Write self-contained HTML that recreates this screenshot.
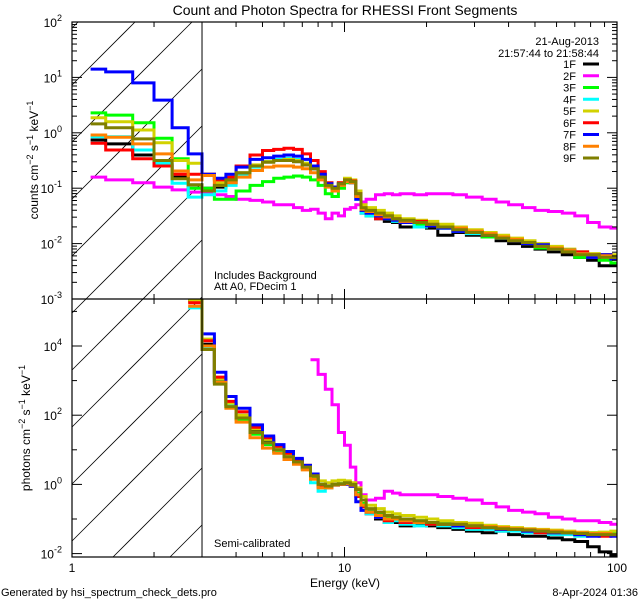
<!DOCTYPE html>
<html><head><meta charset="utf-8"><style>
html,body{margin:0;padding:0;background:#fff;width:640px;height:600px;overflow:hidden;}
svg{display:block;font-family:"Liberation Sans",sans-serif;overflow:hidden;}
</style></head><body>
<svg id="chart" width="640" height="600" viewBox="0 0 640 600" xmlns="http://www.w3.org/2000/svg">
<rect width="640" height="600" fill="#fff"/>
<text x="345" y="15" font-size="14" text-anchor="middle">Count and Photon Spectra for RHESSI Front Segments</text>
<g id="g" fill="none"></g>
<text x="345" y="587" font-size="12" text-anchor="middle">Energy (keV)</text>
<text x="1" y="596" font-size="11">Generated by hsi_spectrum_check_dets.pro</text>
<text x="638" y="596" font-size="11" text-anchor="end">8-Apr-2024 01:36</text>
<text transform="translate(38,160) rotate(-90)" font-size="12" text-anchor="middle">counts cm<tspan dy="-5" font-size="9">−2</tspan><tspan dy="5"> s</tspan><tspan dy="-5" font-size="9">−1</tspan><tspan dy="5"> keV</tspan><tspan dy="-5" font-size="9">−1</tspan></text>
<text transform="translate(30,428) rotate(-90)" font-size="12" text-anchor="middle">photons cm<tspan dy="-5" font-size="9">−2</tspan><tspan dy="5"> s</tspan><tspan dy="-5" font-size="9">−1</tspan><tspan dy="5"> keV</tspan><tspan dy="-5" font-size="9">−1</tspan></text>
<text x="214" y="279" font-size="11">Includes Background</text>
<text x="214" y="290" font-size="11">Att A0, FDecim 1</text>
<text x="214" y="547" font-size="11">Semi-calibrated</text>
<text x="599" y="45" font-size="11" text-anchor="end">21-Aug-2013</text>
<text x="599" y="57" font-size="11" text-anchor="end">21:57:44 to 21:58:44</text>
</svg>
<script>
const energyEdges=[1.17,1.33,1.67,2,2.33,2.67,3,3.33,3.67,4,4.5,5,5.5,6,6.5,7,7.5,8,8.5,9,9.5,10,10.5,11,11.5,12,13,14,15,16,18,20,22,25,28,32,36,40,45,50,56,63,70,78,86,95,100];
const detectorNames=["1F","2F","3F","4F","5F","6F","7F","8F","9F"];
const detectorColors=["#000000","#ff00ff","#00ff00","#00ffff","#d2d200","#ff0000","#0000ff","#ff8000","#7f7f00"];
// log10 counts
const counts1F=[-0.13,-0.2,-0.4,-0.58,-0.8,-0.94,-1.0,-0.98,-0.9,-0.75,-0.6,-0.52,-0.5,-0.5,-0.52,-0.58,-0.65,-0.8,-0.95,-1.0,-0.92,-0.85,-0.88,-1.15,-1.45,-1.5,-1.55,-1.6,-1.62,-1.7,-1.68,-1.72,-1.85,-1.8,-1.85,-1.88,-1.95,-2.0,-2.05,-2.1,-2.15,-2.2,-2.25,-2.3,-2.4,-2.4];
const counts2F=[-0.8,-0.85,-0.9,-0.98,-1.03,-1.07,-1.1,-1.12,-1.15,-1.2,-1.22,-1.25,-1.3,-1.3,-1.35,-1.4,-1.38,-1.45,-1.55,-1.45,-1.5,-1.38,-1.35,-1.3,-1.25,-1.2,-1.12,-1.1,-1.12,-1.1,-1.12,-1.1,-1.1,-1.12,-1.16,-1.2,-1.25,-1.3,-1.35,-1.4,-1.42,-1.45,-1.5,-1.62,-1.7,-1.72];
const counts3F=[0.36,0.32,0.18,-0.1,-0.47,-1.0,-1.0,-1.2,-1.2,-1.05,-0.95,-0.88,-0.82,-0.8,-0.78,-0.8,-0.85,-0.95,-1.1,-1.15,-1.0,-0.9,-0.9,-1.1,-1.4,-1.5,-1.45,-1.55,-1.58,-1.6,-1.65,-1.65,-1.72,-1.75,-1.8,-1.88,-1.9,-1.95,-2.0,-2.08,-2.1,-2.15,-2.25,-2.22,-2.3,-2.35];
const counts4F=[-0.07,-0.07,-0.31,-0.55,-0.91,-1.16,-1.12,-1.05,-0.95,-0.78,-0.62,-0.52,-0.48,-0.46,-0.48,-0.55,-0.62,-0.78,-0.95,-1.05,-0.95,-0.87,-0.9,-1.2,-1.45,-1.5,-1.52,-1.55,-1.6,-1.62,-1.7,-1.68,-1.72,-1.78,-1.82,-1.85,-1.9,-1.95,-2.0,-2.05,-2.1,-2.12,-2.15,-2.2,-2.2,-2.25];
const counts5F=[0.27,0.2,0.05,-0.18,-0.5,-0.55,-0.75,-0.9,-0.88,-0.72,-0.58,-0.52,-0.5,-0.48,-0.5,-0.55,-0.62,-0.78,-0.92,-0.98,-0.9,-0.82,-0.85,-1.05,-1.3,-1.35,-1.4,-1.45,-1.5,-1.55,-1.58,-1.6,-1.65,-1.7,-1.75,-1.8,-1.85,-1.9,-1.95,-2.0,-2.05,-2.1,-2.15,-2.18,-2.2,-2.2];
const counts6F=[-0.19,-0.31,-0.47,-0.6,-0.75,-0.75,-0.75,-0.85,-0.8,-0.6,-0.4,-0.32,-0.3,-0.28,-0.3,-0.38,-0.5,-0.7,-0.9,-0.98,-0.9,-0.85,-0.87,-1.1,-1.4,-1.45,-1.55,-1.5,-1.55,-1.62,-1.6,-1.68,-1.7,-1.75,-1.78,-1.85,-1.88,-1.95,-2.0,-2.05,-2.1,-2.15,-2.15,-2.2,-2.2,-2.25];
const counts7F=[1.15,1.1,0.9,0.59,0.09,-0.38,-0.75,-0.82,-0.75,-0.62,-0.48,-0.45,-0.42,-0.4,-0.42,-0.48,-0.6,-0.75,-0.92,-0.98,-0.92,-0.86,-0.9,-1.2,-1.4,-1.45,-1.5,-1.55,-1.58,-1.62,-1.62,-1.68,-1.72,-1.78,-1.8,-1.85,-1.9,-1.95,-2.0,-2.02,-2.1,-2.12,-2.18,-2.25,-2.2,-2.28];
const counts8F=[-0.04,-0.08,-0.2,-0.38,-0.69,-0.85,-0.77,-0.95,-0.9,-0.8,-0.68,-0.62,-0.6,-0.6,-0.62,-0.65,-0.72,-0.85,-0.98,-1.05,-0.95,-0.88,-0.9,-1.15,-1.38,-1.42,-1.48,-1.52,-1.55,-1.6,-1.62,-1.65,-1.7,-1.72,-1.78,-1.82,-1.88,-1.92,-1.98,-2.05,-2.08,-2.12,-2.18,-2.2,-2.22,-2.25];
const counts9F=[0.16,0.09,-0.11,-0.5,-0.83,-0.94,-1.05,-0.95,-0.85,-0.72,-0.6,-0.53,-0.5,-0.5,-0.52,-0.58,-0.65,-0.8,-0.95,-1.0,-0.92,-0.85,-0.88,-1.1,-1.35,-1.4,-1.45,-1.5,-1.55,-1.58,-1.62,-1.65,-1.7,-1.75,-1.8,-1.85,-1.9,-1.95,-1.98,-2.05,-2.1,-2.15,-2.2,-2.2,-2.25,-2.25];
// log10 photons
const photons1F=[null,null,null,null,null,5.3,4.05,3.0,2.3,2.0,1.55,1.25,1.05,0.85,0.68,0.5,0.2,-0.05,-0.05,0.0,0.0,0.02,-0.05,-0.3,-0.6,-0.85,-1.0,-1.1,-1.1,-1.2,-1.15,-1.2,-1.25,-1.3,-1.35,-1.4,-1.35,-1.45,-1.5,-1.5,-1.55,-1.6,-1.65,-1.8,-1.95,-2.05];
const photons2F=[null,null,null,null,null,null,null,null,null,null,null,null,null,null,null,null,3.6,3.18,2.75,2.3,1.5,1.13,0.5,0.05,-0.3,-0.45,-0.4,-0.2,-0.25,-0.3,-0.3,-0.3,-0.35,-0.4,-0.45,-0.55,-0.65,-0.75,-0.8,-0.85,-0.95,-1.0,-1.05,-1.05,-1.1,-1.15];
const photons3F=[null,null,null,null,null,5.4,3.95,2.95,2.25,1.88,1.45,1.15,0.95,0.78,0.62,0.45,0.2,0.0,-0.05,0.0,0.02,0.05,0.0,-0.25,-0.55,-0.75,-0.85,-0.95,-0.95,-1.0,-1.05,-1.1,-1.1,-1.15,-1.2,-1.22,-1.25,-1.28,-1.3,-1.32,-1.35,-1.38,-1.4,-1.4,-1.45,-1.4];
const photons4F=[null,null,null,null,null,5.1,3.95,2.95,2.3,1.95,1.5,1.2,1.0,0.82,0.65,0.45,0.05,-0.2,-0.1,-0.02,0.0,0.02,-0.05,-0.3,-0.6,-0.85,-0.95,-1.1,-1.05,-1.15,-1.2,-1.15,-1.2,-1.25,-1.3,-1.3,-1.35,-1.35,-1.4,-1.4,-1.45,-1.45,-1.5,-1.45,-1.4,-1.45];
const photons5F=[null,null,null,null,null,5.3,4.2,3.05,2.35,2.0,1.6,1.3,1.05,0.88,0.7,0.55,0.3,0.1,0.05,0.1,0.12,0.1,0.05,-0.1,-0.35,-0.6,-0.7,-0.8,-0.85,-0.9,-0.95,-1.0,-1.05,-1.1,-1.12,-1.18,-1.22,-1.25,-1.28,-1.3,-1.32,-1.35,-1.38,-1.4,-1.38,-1.35];
const photons6F=[null,null,null,null,null,5.25,4.15,3.1,2.4,2.1,1.65,1.35,1.1,0.9,0.72,0.55,0.25,-0.05,-0.05,0.0,0.0,0.02,-0.05,-0.35,-0.65,-0.8,-0.95,-1.05,-1.0,-1.1,-1.1,-1.15,-1.15,-1.2,-1.25,-1.25,-1.3,-1.3,-1.35,-1.4,-1.4,-1.4,-1.45,-1.45,-1.5,-1.45];
const photons7F=[null,null,null,null,null,5.6,4.35,3.24,2.54,2.2,1.72,1.4,1.15,0.95,0.75,0.55,0.3,0.0,-0.05,-0.02,0.0,0.0,-0.05,-0.5,-0.75,-0.8,-0.95,-1.0,-1.0,-1.05,-1.1,-1.1,-1.15,-1.2,-1.2,-1.25,-1.3,-1.3,-1.35,-1.35,-1.4,-1.4,-1.45,-1.5,-1.45,-1.5];
const photons8F=[null,null,null,null,null,5.15,4.0,2.95,2.2,1.8,1.35,1.05,0.9,0.72,0.58,0.42,0.15,-0.1,-0.1,-0.02,0.0,0.02,-0.02,-0.3,-0.6,-0.8,-0.9,-1.0,-1.0,-1.05,-1.1,-1.1,-1.15,-1.15,-1.2,-1.22,-1.25,-1.28,-1.3,-1.32,-1.35,-1.38,-1.4,-1.42,-1.42,-1.45];
const photons9F=[null,null,null,null,null,5.5,3.9,2.9,2.25,1.92,1.5,1.2,1.0,0.8,0.65,0.5,0.25,0.0,-0.05,0.0,0.02,0.05,0.0,-0.15,-0.45,-0.7,-0.8,-0.9,-0.95,-1.0,-1.05,-1.1,-1.15,-1.15,-1.2,-1.25,-1.28,-1.3,-1.32,-1.35,-1.38,-1.4,-1.42,-1.45,-1.45,-1.45];
const countsSeries=[counts1F,counts2F,counts3F,counts4F,counts5F,counts6F,counts7F,counts8F,counts9F];
const photonsSeries=[photons1F,photons2F,photons3F,photons4F,photons5F,photons6F,photons7F,photons8F,photons9F];
const topDecades=[-3,-2,-1,0,1,2];
const bottomDecades=[-2,0,2,4];
const xTickLabels=["1","10","100"];

const NS="http://www.w3.org/2000/svg";
const g=document.getElementById('g');
const X0=72,X1=617,XD=272.5;
const T={top:22,bot:299,v0:2,pd:55.4};
const B={top:299,bot:557,v0:4,y0:346,pd:34.6};
const xs=e=>X0+XD*Math.log10(e);
const yTop=v=>T.top+(T.v0-v)*T.pd;
const yBot=v=>B.y0+(B.v0-v)*B.pd;
function mk(tag,attrs,parent){const el=document.createElementNS(NS,tag);for(const k in attrs)el.setAttribute(k,attrs[k]);(parent||g).appendChild(el);return el;}

const defs=mk('defs',{});
const c1=mk('clipPath',{id:'clipTop'},defs);mk('rect',{x:X0,y:T.top-4,width:X1-X0+1,height:T.bot-T.top+4},c1);
const c2=mk('clipPath',{id:'clipBot'},defs);mk('rect',{x:X0,y:B.top,width:X1-X0+1,height:B.bot-B.top},c2);

const hatch=mk('g',{stroke:'#000','stroke-width':'0.8'});


const HX0=X0,HX1=xs(3),HY0=T.top,HY1=B.bot;
for(let k=-5;k<20;k++){const c=135+k*57;
 let ya=HY0, yb=HY1;
 ya=Math.max(ya, HY0+(c-HX1)); yb=Math.min(yb, HY0+(c-HX0));
 if(yb<=ya) continue;
 mk('line',{x1:c-(ya-HY0),y1:ya,x2:c-(yb-HY0),y2:yb},hatch);}

function stepPath(vals,yf){let d='';let open=false;for(let i=0;i<vals.length;i++){const v=vals[i];if(v===null){open=false;continue;}const xa=xs(energyEdges[i]).toFixed(1),xb=xs(energyEdges[i+1]).toFixed(1),y=yf(v).toFixed(1);if(!open){d+=`M${xa} ${y}`;open=true;}else d+=`V${y}`;d+=`H${xb}`;}return d;}
const topG=mk('g',{'clip-path':'url(#clipTop)'});
const botG=mk('g',{'clip-path':'url(#clipBot)'});
countsSeries.forEach((s,i)=>{const p=mk('path',{d:stepPath(s,yTop),stroke:detectorColors[i],'stroke-width':'3',fill:'none'},topG);

});
photonsSeries.forEach((s,i)=>{const p=mk('path',{d:stepPath(s,yBot),stroke:detectorColors[i],'stroke-width':'3',fill:'none'},botG);

});

mk('rect',{x:X0,y:T.top,width:X1-X0,height:B.bot-T.top,stroke:'#000','stroke-width':'1.2',fill:'none'});
mk('line',{x1:X0,y1:T.bot,x2:X1,y2:T.bot,stroke:'#000','stroke-width':'1.2'});
const vl=mk('line',{x1:xs(3),y1:T.top,x2:xs(3),y2:B.bot,stroke:'#000','stroke-width':'1'});



const ax=mk('g',{stroke:'#000','stroke-width':'1'});
for(let d=0;d<2;d++)for(let m=1;m<10;m++){const e=m*Math.pow(10,d);const x=xs(e);const L=m===1?10:5;
[[T.top,1],[T.bot,-1],[T.bot,1],[B.bot,-1]].forEach(([y,s])=>mk('line',{x1:x,y1:y,x2:x,y2:y+s*L},ax));}
[T.top,T.bot,B.bot].forEach((y,j)=>{const x=xs(100);mk('line',{x1:x,y1:y,x2:x,y2:y+(j==0?10:-10)},ax);});
xTickLabels.forEach((t,i)=>{const el=mk('text',{x:xs(Math.pow(10,i)),y:572,'font-size':'12','text-anchor':'middle',fill:'#000',stroke:'none'});el.textContent=t;

});

for(let d=-3;d<2;d++)for(let m=1;m<10;m++){const y=yTop(d+Math.log10(m));const L=m===1?10:5;mk('line',{x1:X0,y1:y,x2:X0+L,y2:y},ax);mk('line',{x1:X1,y1:y,x2:X1-L,y2:y},ax);}
[yTop(2)].forEach(y=>{mk('line',{x1:X0,y1:y,x2:X0+10,y2:y},ax);mk('line',{x1:X1,y1:y,x2:X1-10,y2:y},ax);});
topDecades.forEach(d=>{const t=mk('text',{x:62,y:yTop(d)+5,'font-size':'12','text-anchor':'end',fill:'#000',stroke:'none'});t.innerHTML='10<tspan dy="-6" font-size="9">'+d+'</tspan>';

});
for(let d=-3;d<6;d++){const y=yBot(d);if(y<B.top||y>B.bot)continue;const L=(d%2===0)?10:5;mk('line',{x1:X0,y1:y,x2:X0+L,y2:y},ax);mk('line',{x1:X1,y1:y,x2:X1-L,y2:y},ax);}
bottomDecades.forEach(d=>{const t=mk('text',{x:62,y:yBot(d)+5,'font-size':'12','text-anchor':'end',fill:'#000',stroke:'none'});t.innerHTML='10<tspan dy="-6" font-size="9">'+d+'</tspan>';

});

detectorNames.forEach((n,i)=>{const y=64+i*11.75;
const t=mk('text',{x:576,y:y+4,'font-size':'11','text-anchor':'end',fill:'#000',stroke:'none'});t.textContent=n;


const l=mk('line',{x1:583,y1:y,x2:599,y2:y,stroke:detectorColors[i],'stroke-width':'3'});

});
</script>
</body></html>
